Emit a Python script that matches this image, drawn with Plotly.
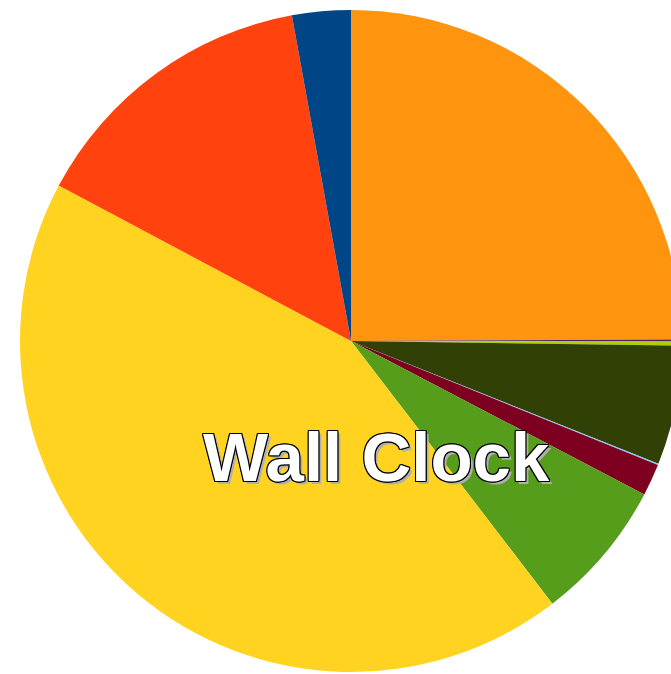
import plotly.graph_objects as go

# Share of wall-clock time per component (percent), clockwise from 12 o'clock
labels = ["Component 10", "Component 9", "Component 8", "Component 7", "Component 6",
          "Component 5", "Component 4", "Component 3", "Component 2", "Component 1"]
values = [24.92, 0.11, 0.19, 5.83, 0.06, 1.56, 6.92, 43.19, 14.36, 2.86]
colors = ["#ff950e", "#4b1f6f", "#aecf00", "#314004", "#83caff",
          "#7e0021", "#579d1c", "#ffd320", "#ff420e", "#004586"]
title_text = "Wall Clock"

W, H = 702, 674
ML, MR, MT, MB = 20, 20, 10, 2

fig = go.Figure(go.Pie(
    labels=labels,
    values=values,
    sort=False,
    direction="clockwise",
    rotation=0,
    marker=dict(colors=colors, line=dict(width=0)),
    textinfo="none",
    hoverinfo="label+percent",
    domain=dict(x=[0, 1], y=[0, 1]),
))

outline = ", ".join(f"{dx}px {dy}px 0 #000" for dx, dy in
                    [(-1, -1), (1, -1), (-1, 1), (1, 1), (0, -1), (0, 1), (-1, 0), (1, 0)])
fig.add_annotation(
    text=title_text,
    xref="paper", yref="paper",
    x=(376 - ML) / (W - ML - MR), y=(H - MB - 457) / (H - MT - MB),
    xanchor="center", yanchor="middle",
    showarrow=False,
    font=dict(family="Liberation Sans, Arial, sans-serif", size=69, color="white",
              weight="bold", shadow=outline + ", 3px 3px 0 #b0b0b0"),
)

fig.update_layout(
    width=W, height=H, autosize=False,
    margin=dict(l=ML, r=MR, t=MT, b=MB),
    showlegend=False,
    paper_bgcolor="white", plot_bgcolor="white",
)

fig.write_html("out.html", post_script="document.body.style.overflow='hidden';")
